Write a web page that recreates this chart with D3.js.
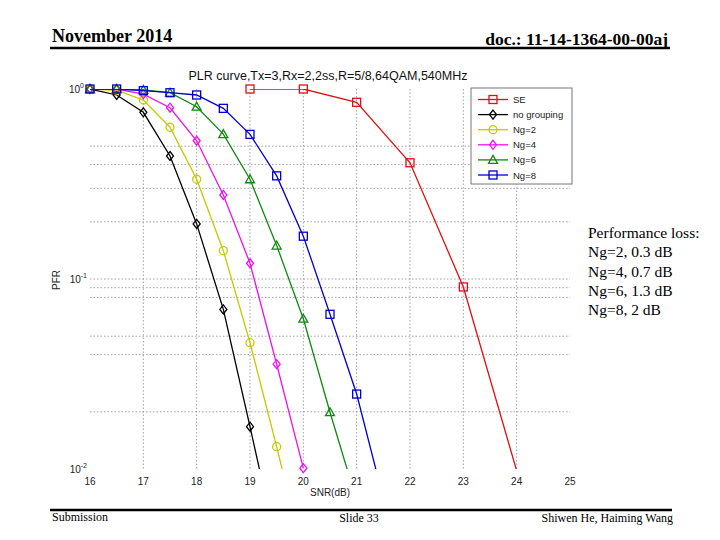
<!DOCTYPE html>
<html><head><meta charset="utf-8">
<script src="https://cdn.jsdelivr.net/npm/d3@7"></script>
<style>body{margin:0;background:#fff}svg{display:block}</style>
</head><body>
<script>
// ---- data ----
const xTicks = [16,17,18,19,20,21,22,23,24,25];
const yTicks = [1, 0.1, 0.01];
const yTickExp = ["0","-1","-2"];
const gridYValues = [0.5,0.4,0.3,0.2,0.1,0.09,0.08,0.05,0.04,0.02];
const gridXValues = [17,18,19,20,21,22,23,24];
const seriesNames = ["SE","no grouping","Ng=2","Ng=4","Ng=6","Ng=8"];
const seX = [19,20,21,22,23,24];
const seY = [1.0,1.0,0.851,0.409,0.0908,0.0098];
const noGroupX = [16,16.5,17,17.5,18,18.5,19,19.5];
const noGroupY = [1.0,0.93,0.754,0.444,0.195,0.0692,0.0167,0.0039];
const ng2X = [16,16.5,17,17.5,18,18.5,19,19.5,20];
const ng2Y = [1.0,0.985,0.875,0.629,0.335,0.141,0.0462,0.0131,0.0035];
const ng4X = [16,16.5,17,17.5,18,18.5,19,19.5,20];
const ng4Y = [1.0,1.0,0.94,0.797,0.534,0.277,0.121,0.0356,0.0101];
const ng6X = [16,16.5,17,17.5,18,18.5,19,19.5,20,20.5,21];
const ng6Y = [1.0,1.0,0.99,0.956,0.807,0.579,0.335,0.150,0.0618,0.0199,0.0068];
const ng8X = [16,16.5,17,17.5,18,18.5,19,19.5,20,20.5,21,21.5];
const ng8Y = [1.0,1.0,0.98,0.956,0.93,0.791,0.577,0.349,0.168,0.0652,0.0248,0.0070];
const lossLines = ["Performance loss:","Ng=2, 0.3 dB","Ng=4, 0.7 dB","Ng=6, 1.3 dB","Ng=8, 2 dB"];

const colors = ["#dd1111","#000000","#c8c800","#ee11ee","#118811","#0000cc"];
const markers = ["square","diamond","circle","diamond","triangle","square"];
const seriesX = [seX,noGroupX,ng2X,ng4X,ng6X,ng8X];
const seriesY = [seY,noGroupY,ng2Y,ng4Y,ng6Y,ng8Y];

const W=720,H=540;
const svg = d3.select("body").append("svg").attr("width",W).attr("height",H);
const serif = "'Liberation Serif','Times New Roman',serif";
const sans = "'Liberation Sans',Arial,Helvetica,sans-serif";

// header / footer
svg.append("text").attr("x",52).attr("y",42).attr("font-family",serif).attr("font-weight","bold")
  .attr("font-size",18).text("November 2014");
svg.append("text").attr("x",668).attr("y",45).attr("text-anchor","end").attr("font-family",serif).attr("font-weight","bold")
  .attr("font-size",17.5).text("doc.: 11-14-1364-00-00aj");
svg.append("line").attr("x1",50).attr("x2",670).attr("y1",48).attr("y2",48).attr("stroke","#000").attr("stroke-width",2.5);
svg.append("line").attr("x1",50).attr("x2",672).attr("y1",510).attr("y2",510).attr("stroke","#000").attr("stroke-width",2.5);
svg.append("text").attr("x",52).attr("y",521).attr("font-family",serif).attr("font-size",12).text("Submission");
svg.append("text").attr("x",359).attr("y",522).attr("text-anchor","middle").attr("font-family",serif).attr("font-size",12).text("Slide 33");
svg.append("text").attr("x",673).attr("y",522).attr("text-anchor","end").attr("font-family",serif).attr("font-size",12).text("Shiwen He, Haiming Wang");

// side text
svg.append("g").selectAll("text").data(lossLines).join("text")
  .attr("x",588).attr("y",(d,i)=>238+i*19.3).attr("font-family",serif).attr("font-size",15.5).text(d=>d);

// plot
const x = d3.scaleLinear().domain([16,25]).range([90,570]);
const y = d3.scaleLog().domain([0.01,1]).range([469,89]);

svg.append("defs").append("clipPath").attr("id","clip").append("rect")
  .attr("x",90).attr("y",89).attr("width",480).attr("height",380);

const grid = svg.append("g").attr("stroke","#8a8a8a").attr("stroke-width",0.8).attr("stroke-dasharray","1.5,2");
grid.selectAll(".gy").data(gridYValues).join("line")
  .attr("x1",x(16)).attr("x2",x(25)).attr("y1",d=>y(d)).attr("y2",d=>y(d));
grid.selectAll(".gx").data(gridXValues).join("line")
  .attr("x1",d=>x(d)).attr("x2",d=>x(d)).attr("y1",y(1)).attr("y2",y(0.01));

// x tick labels
svg.append("g").selectAll("text").data(xTicks).join("text")
  .attr("x",d=>x(d)).attr("y",485).attr("text-anchor","middle").attr("font-family",sans).attr("font-size",10)
  .attr("fill","#222").text(d=>d);
// y tick labels
const yl = svg.append("g").selectAll("text").data(yTicks).join("text")
  .attr("x",(d,i)=>i===0?84:87).attr("y",d=>y(d)+4).attr("text-anchor","end").attr("font-family",sans).attr("font-size",10).attr("fill","#222");
yl.append("tspan").text("10");
yl.append("tspan").attr("dy",-5).attr("font-size",7).text((d,i)=>yTickExp[i]);

svg.append("text").attr("x",330).attr("y",496).attr("text-anchor","middle").attr("font-family",sans).attr("font-size",10).attr("fill","#222").text("SNR(dB)");
svg.append("text").attr("transform","translate(60,280) rotate(-90)").attr("text-anchor","middle").attr("font-family",sans).attr("font-size",10).attr("fill","#222").text("PFR");
svg.append("text").attr("x",328).attr("y",80).attr("text-anchor","middle").attr("font-family",sans).attr("font-size",12.5).attr("fill","#111")
  .text("PLR curve,Tx=3,Rx=2,2ss,R=5/8,64QAM,540MHz");

function drawMarker(g, type, cx, cy, color){
  if(type==="square") g.append("rect").attr("x",cx-4).attr("y",cy-4).attr("width",8).attr("height",8).attr("fill","none").attr("stroke",color).attr("stroke-width",1.3);
  else if(type==="circle") g.append("circle").attr("cx",cx).attr("cy",cy).attr("r",4).attr("fill","none").attr("stroke",color).attr("stroke-width",1.3);
  else if(type==="diamond") g.append("path").attr("d",`M${cx},${cy-4.5}L${cx+3.5},${cy}L${cx},${cy+4.5}L${cx-3.5},${cy}Z`).attr("fill","none").attr("stroke",color).attr("stroke-width",1.3);
  else if(type==="triangle") g.append("path").attr("d",`M${cx},${cy-4.5}L${cx+4.5},${cy+3.5}L${cx-4.5},${cy+3.5}Z`).attr("fill","none").attr("stroke",color).attr("stroke-width",1.3);
}

const line = d3.line().x(d=>x(d[0])).y(d=>y(d[1]));
seriesNames.forEach((name,i)=>{
  const pts = seriesX[i].map((v,j)=>[v,seriesY[i][j]]);
  const g = svg.append("g");
  g.append("path").attr("d",line(pts)).attr("fill","none").attr("stroke",colors[i]).attr("stroke-width",1.3).attr("clip-path","url(#clip)");
  pts.filter(p=>p[1]>=0.01).forEach(p=>drawMarker(g,markers[i],x(p[0]),y(p[1]),colors[i]));
});

// legend
const lg = svg.append("g");
lg.append("rect").attr("x",471).attr("y",88).attr("width",101).attr("height",96).attr("fill","#fff").attr("stroke","#777").attr("stroke-width",1);
seriesNames.forEach((name,i)=>{
  const yy = 99.5 + i*15.1;
  lg.append("line").attr("x1",478).attr("x2",508).attr("y1",yy).attr("y2",yy).attr("stroke",colors[i]).attr("stroke-width",1.3);
  drawMarker(lg,markers[i],493,yy,colors[i]);
  lg.append("text").attr("x",513).attr("y",yy+3.5).attr("font-family",sans).attr("font-size",9.5).attr("fill","#222").text(name);
});
</script>
</body></html>
